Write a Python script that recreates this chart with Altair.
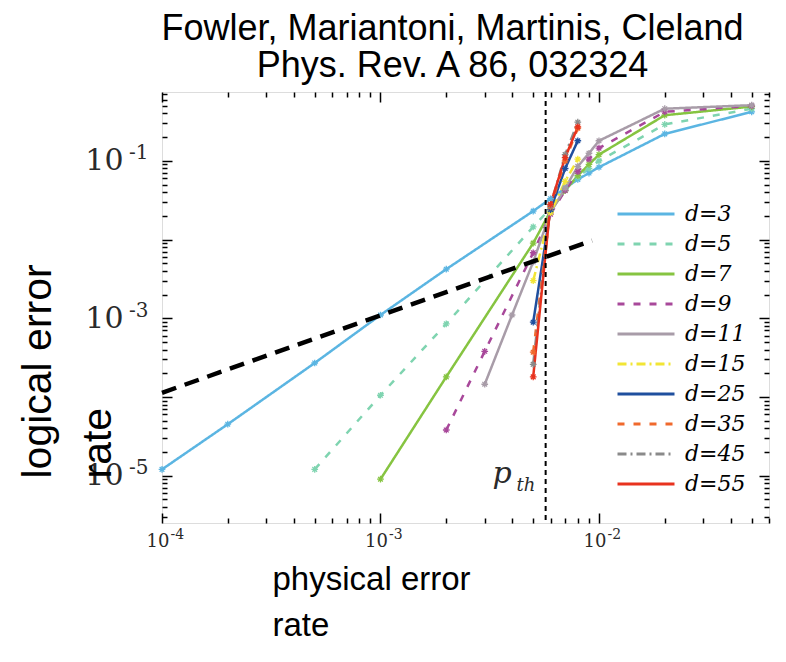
import altair as alt
import pandas as pd

# ---------------- data ----------------
D_LABELS = ["d=3", "d=5", "d=7", "d=9", "d=11", "d=15", "d=25", "d=35", "d=45", "d=55"]
COLORS = ["#5bb5e2", "#7fd4b0", "#86c441", "#a8489a", "#a89ca8",
          "#f2e535", "#1f4f9e", "#f0692c", "#8a8a8a", "#e8321e"]
DASHES = [[1, 0], [7, 9], [1, 0], [7, 9], [1, 0],
          [9, 4, 2, 4], [1, 0], [7, 9], [9, 4, 2, 4], [1, 0]]

P_D3 = [1e-4, 2e-4, 5e-4, 1e-3, 2e-3, 5e-3, 6e-3, 7e-3, 8e-3, 9e-3, 1e-2, 2e-2, 5e-2]
E_D3 = [1.2e-5, 4.5e-5, 2.7e-4, 1.1e-3, 4.2e-3, 0.023, 0.033, 0.045, 0.058, 0.07, 0.083, 0.22, 0.42]
P_D5 = [5e-4, 1e-3, 2e-3, 5e-3, 6e-3, 7e-3, 8e-3, 9e-3, 1e-2, 2e-2, 5e-2]
E_D5 = [1.2e-5, 1.05e-4, 8.5e-4, 0.0145, 0.025, 0.043, 0.062, 0.08, 0.1, 0.29, 0.46]
P_D7 = [1e-3, 2e-3, 5e-3, 6e-3, 7e-3, 8e-3, 9e-3, 1e-2, 2e-2, 5e-2]
E_D7 = [9e-6, 1.8e-4, 9e-3, 0.023, 0.042, 0.065, 0.09, 0.12, 0.38, 0.49]
P_D9 = [2e-3, 3e-3, 5e-3, 6e-3, 7e-3, 8e-3, 9e-3, 1e-2, 2e-2, 5e-2]
E_D9 = [3.8e-5, 3.8e-4, 6.8e-3, 0.021, 0.042, 0.073, 0.105, 0.145, 0.42, 0.5]
P_D11 = [3e-3, 4e-3, 5e-3, 6e-3, 7e-3, 8e-3, 9e-3, 1e-2, 2e-2, 5e-2]
E_D11 = [1.45e-4, 1.1e-3, 5.2e-3, 0.022, 0.045, 0.085, 0.125, 0.18, 0.46, 0.51]
P_D15 = [5e-3, 6e-3, 7e-3, 8e-3]
E_D15 = [3.0e-3, 0.022, 0.055, 0.105]
P_D25 = [5e-3, 6e-3, 7e-3, 8e-3]
E_D25 = [8.9e-4, 0.024, 0.08, 0.18]
P_D35 = [5e-3, 6e-3, 7e-3, 8e-3]
E_D35 = [3.7e-4, 0.026, 0.1, 0.26]
P_D45 = [5e-3, 6e-3, 7e-3, 8e-3]
E_D45 = [2.6e-4, 0.027, 0.12, 0.31]
P_D55 = [5e-3, 6e-3, 7e-3, 8e-3]
E_D55 = [1.8e-4, 0.028, 0.11, 0.27]

P_ALL = [P_D3, P_D5, P_D7, P_D9, P_D11, P_D15, P_D25, P_D35, P_D45, P_D55]
E_ALL = [E_D3, E_D5, E_D7, E_D9, E_D11, E_D15, E_D25, E_D35, E_D45, E_D55]

# break-even dashed line and threshold
BE_P = [1e-4, 9.3e-3]
BE_E = [1.13e-4, 9.7e-3]
P_TH = [0.0057]
PTH_LABEL_P = [3.26e-3]
PTH_LABEL_E = [8.1e-6]
PTH_SUB_P = [4.19e-3]
PTH_SUB_E = [6.3e-6]

X_TICKS = [1e-4, 2e-4, 3e-4, 4e-4, 5e-4, 6e-4, 7e-4, 8e-4, 9e-4,
           1e-3, 2e-3, 3e-3, 4e-3, 5e-3, 6e-3, 7e-3, 8e-3, 9e-3,
           1e-2, 2e-2, 3e-2, 4e-2, 5e-2, 6e-2]
Y_TICKS = [3e-6, 4e-6, 5e-6, 6e-6, 7e-6, 8e-6, 9e-6,
           1e-5, 2e-5, 3e-5, 4e-5, 5e-5, 6e-5, 7e-5, 8e-5, 9e-5,
           1e-4, 2e-4, 3e-4, 4e-4, 5e-4, 6e-4, 7e-4, 8e-4, 9e-4,
           1e-3, 2e-3, 3e-3, 4e-3, 5e-3, 6e-3, 7e-3, 8e-3, 9e-3,
           1e-2, 2e-2, 3e-2, 4e-2, 5e-2, 6e-2, 7e-2, 8e-2, 9e-2,
           1e-1, 2e-1, 3e-1, 4e-1, 5e-1, 6e-1, 7e-1]
X_LABEL_VALUES = [1e-4, 1e-3, 1e-2]
X_LABEL_EXP = ["-4", "-3", "-2"]
Y_LABEL_VALUES = [1e-1, 1e-3, 1e-5]
Y_LABEL_EXP = ["-1", "-3", "-5"]

rows = []
for lab, ps, es in zip(D_LABELS, P_ALL, E_ALL):
    for p, e in zip(ps, es):
        rows.append({"d": lab, "p": p, "e": e})
df = pd.DataFrame(rows)
df_be = pd.DataFrame({"p": BE_P, "e": BE_E})
df_th = pd.DataFrame({"p": P_TH})
df_pl = pd.DataFrame({"p": PTH_LABEL_P, "e": PTH_LABEL_E, "t": ["p"]})
df_ps = pd.DataFrame({"p": PTH_SUB_P, "e": PTH_SUB_E, "t": ["th"]})

# ---------------- layout ----------------
W, H = 607, 431
xs = alt.Scale(type="log", domain=[1e-4, 0.06], nice=False)
ys = alt.Scale(type="log", domain=[2.5e-6, 0.75], nice=False)
LABEL_COLOR = "#2a2a2a"


def label_expr(values, texts):
    expr = "''"
    for v, t in zip(values, texts):
        expr = f"abs(datum.value - {v}) < {v * 1e-3} ? '{t}' : ({expr})"
    return expr


MAJOR = "abs(log(datum.value)/LN10 - round(log(datum.value)/LN10)) < 0.01"
tick_size = {"condition": {"test": MAJOR, "value": 10}, "value": 5}


def inner_axis(orient, offset, values):
    return alt.Axis(orient=orient, offset=offset, values=values, labels=False,
                    domain=False, grid=False, ticks=True, tickSize=tick_size,
                    tickColor="black", tickWidth=1.5, title=None)


# x: base "10" labels + axis title
ax_bottom = alt.Axis(
    orient="bottom", values=X_LABEL_VALUES, labelExpr="'10'",
    ticks=False, domain=False, grid=False, labelFlush=False, labelOverlap=False,
    labelFont="DejaVu Serif", labelFontSize=18, labelColor=LABEL_COLOR,
    labelPadding=9, labelAlign="right", labelOffset=7,
    title=["physical error", "rate"], titleFont="Liberation Sans", titleFontSize=33,
    titleFontWeight="normal", titleColor="black", titleAlign="left",
    titleBaseline="alphabetic", titleX=110, titleY=66, titleLineHeight=46,
)
# x: exponents
ax_bottom_exp = alt.Axis(
    orient="bottom", values=X_LABEL_VALUES, labelExpr=label_expr(X_LABEL_VALUES, X_LABEL_EXP),
    ticks=False, domain=False, grid=False, labelFlush=False, labelOverlap=False,
    labelFont="DejaVu Serif", labelFontSize=14, labelColor=LABEL_COLOR,
    labelPadding=4, labelAlign="left", labelOffset=8, title=None,
)
# y: base "10" labels + axis title
ay_left = alt.Axis(
    orient="left", values=Y_LABEL_VALUES, labelExpr="'10'",
    ticks=False, domain=False, grid=False, labelFlush=False, labelOverlap=False,
    labelFont="DejaVu Serif", labelFontSize=30, labelColor=LABEL_COLOR,
    labelPadding=39, labelAlign="right", labelBaseline="middle",
    title=["logical error", "rate"], titleFont="Liberation Sans", titleFontSize=41,
    titleFontWeight="normal", titleColor="black", titleAngle=270, titleAlign="left",
    titleBaseline="alphabetic", titleX=-112, titleY=386, titleLineHeight=60,
)
# y: exponents
ay_left_exp = alt.Axis(
    orient="left", values=Y_LABEL_VALUES, labelExpr=label_expr(Y_LABEL_VALUES, Y_LABEL_EXP),
    ticks=False, domain=False, grid=False, labelFlush=False, labelOverlap=False,
    labelFont="DejaVu Serif", labelFontSize=20, labelColor=LABEL_COLOR,
    labelPadding=14, labelAlign="right", labelBaseline="middle", labelOffset=-8, title=None,
)

legend = alt.Legend(
    orient="none", legendX=473, legendY=111, title=None,
    symbolType="M-3,0H3", symbolSize=361, symbolStrokeWidth=3,
    labelFont="DejaVu Serif", labelFontStyle="italic", labelFontSize=22,
    labelColor="black", labelOffset=28, rowPadding=8, padding=0,
)

color = alt.Color("d:N", sort=D_LABELS, scale=alt.Scale(domain=D_LABELS, range=COLORS), legend=legend)
dash = alt.StrokeDash("d:N", sort=D_LABELS, scale=alt.Scale(domain=D_LABELS, range=DASHES), legend=legend)

lines = alt.Chart(df).mark_line(strokeWidth=2.5).encode(
    x=alt.X("p:Q", scale=xs, axis=ax_bottom),
    y=alt.Y("e:Q", scale=ys, axis=ay_left),
    color=color, strokeDash=dash,
)

ASTER = "M-1,0H1M0,-1V1M-0.7,-0.7L0.7,0.7M-0.7,0.7L0.7,-0.7"
points = alt.Chart(df).mark_point(shape=ASTER, filled=False, size=45, strokeWidth=1.3, opacity=1).encode(
    x=alt.X("p:Q", scale=xs, axis=ax_bottom_exp),
    y=alt.Y("e:Q", scale=ys, axis=ay_left_exp),
    color=alt.Color("d:N", sort=D_LABELS, scale=alt.Scale(domain=D_LABELS, range=COLORS), legend=None),
)

breakeven = alt.Chart(df_be).mark_line(color="black", strokeWidth=4.5, strokeDash=[15, 9]).encode(
    x=alt.X("p:Q", scale=xs, axis=inner_axis("top", -H, X_TICKS)),
    y=alt.Y("e:Q", scale=ys, axis=inner_axis("right", -W, Y_TICKS)),
)

thresh = alt.Chart(df_th).mark_rule(color="black", strokeWidth=2, strokeDash=[5, 4]).encode(
    x=alt.X("p:Q", scale=xs, axis=inner_axis("bottom", -H, X_TICKS)),
)

p_label = alt.Chart(df_pl).mark_text(
    font="DejaVu Serif", fontStyle="italic", fontSize=30, align="left", baseline="alphabetic", color="#2a2a2a"
).encode(
    x=alt.X("p:Q", scale=xs, axis=None),
    y=alt.Y("e:Q", scale=ys, axis=inner_axis("left", -W, Y_TICKS)),
    text="t:N",
)
p_sub = alt.Chart(df_ps).mark_text(
    font="DejaVu Serif", fontStyle="italic", fontSize=18, align="left", baseline="alphabetic", color="#2a2a2a"
).encode(
    x=alt.X("p:Q", scale=xs, axis=None),
    y=alt.Y("e:Q", scale=ys, axis=None),
    text="t:N",
)

chart = alt.layer(lines, points, breakeven, thresh, p_label, p_sub).resolve_axis(
    x="independent", y="independent"
).properties(
    width=W, height=H,
    title=alt.TitleParams(
        ["Fowler, Mariantoni, Martinis, Cleland", "Phys. Rev. A 86, 032324"],
        font="Liberation Sans", fontSize=36, fontWeight="normal", color="black",
        anchor="middle", frame="group", dx=-13, offset=6, lineHeight=37,
    ),
    autosize=alt.AutoSizeParams(type="none"),
    padding={"left": 154, "top": 84, "right": 9, "bottom": 125},
).configure_view(stroke="black", strokeWidth=2).configure(background="white")

chart.save("out.html", embed_options={"renderer": "svg", "actions": False})
